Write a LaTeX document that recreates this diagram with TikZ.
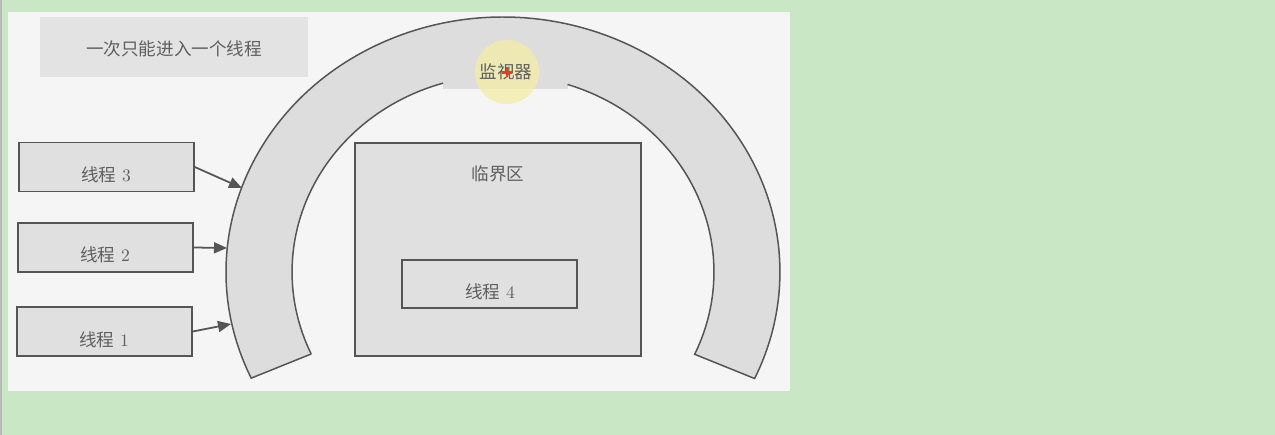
\documentclass[tikz,border=0pt]{standalone}
\usepackage{fontspec}
\newfontfamily\cjk{Noto Sans CJK SC}
\usetikzlibrary{arrows.meta}
\definecolor{pagegreen}{RGB}{201,231,197}
\definecolor{scanbg}{RGB}{245,245,245}
\definecolor{boxgray}{RGB}{224,224,224}
\definecolor{notegray}{RGB}{227,227,227}
\definecolor{bandgray}{RGB}{221,221,221}
\definecolor{edgegray}{RGB}{85,85,85}
\definecolor{textgray}{RGB}{95,95,95}
\definecolor{hilite}{RGB}{244,238,165}
\definecolor{cursorred}{RGB}{232,62,30}

\tikzset{
  threadbox/.style={draw=edgegray, fill=boxgray, line width=0.85pt, inner sep=0pt,
                    minimum width=3.5cm, minimum height=0.98cm},
  txt/.style={text=textgray, font=\fontsize{10}{12}\selectfont, inner sep=0pt},
  feed/.style={draw=edgegray, line width=1pt, -{Triangle[length=2.6mm,width=2.2mm]}},
}

\begin{document}
\begin{tikzpicture}[x=0.02cm, y=-0.02cm]
    \useasboundingbox (0,0) rectangle (1275,435);
    %% page and scanned sheet
    \fill[pagegreen] (0,0) rectangle (1275,435);
    \draw[gray!55, line width=0.6pt] (1,0) -- (1,435);
    \fill[scanbg] (8,12) rectangle (790,391);

    %% note box
    \node[fill=notegray, inner sep=0pt, minimum width=5.36cm, minimum height=1.2cm] (note) at (174,47) {};
    \node[txt] (notetxt) at (174,49) {\cjk 一次只能进入一个线程};

    %% monitor band
    \coordinate (mc) at (503,272);
    \path (mc) ++(204.6:5.54cm and 5.1cm) coordinate (ol)
          (mc) ++(-24.7:5.54cm and 5.1cm) coordinate (or)
          (mc) ++(204.6:4.22cm and 3.94cm) coordinate (il)
          (mc) ++(-24.7:4.22cm and 3.94cm) coordinate (ir)
          (mc) ++(106.5:4.22cm and 3.94cm) coordinate (gl)
          (mc) ++(72.2:4.22cm and 3.94cm) coordinate (gr);
    \fill[bandgray] (ol) arc[start angle=204.6, end angle=-24.7, x radius=5.54cm, y radius=5.1cm]
        -- (ir) arc[start angle=-24.7, end angle=204.6, x radius=4.22cm, y radius=3.94cm] -- cycle;
    \fill[bandgray] (443,70) rectangle (568,89);
    \draw[edgegray, line width=0.85pt] (il) -- (ol)
        arc[start angle=204.6, end angle=-24.7, x radius=5.54cm, y radius=5.1cm]
        -- (ir) arc[start angle=-24.7, end angle=72.2, x radius=4.22cm, y radius=3.94cm];
    \draw[edgegray, line width=0.85pt] (gl) arc[start angle=106.5, end angle=204.6, x radius=4.22cm, y radius=3.94cm];

    %% cursor highlight
    \fill[hilite, opacity=0.75] (507,72) circle[radius=0.64cm];
    \node[txt] (montxt) at (506,72) {\cjk 监视器};
    \draw[cursorred, line width=1.6pt] (502,72.5) -- (512,72.5) (507,67.5) -- (507,77.5);

    %% critical section
    \node[draw=edgegray, fill=boxgray, line width=0.85pt, inner sep=0pt,
          minimum width=5.72cm, minimum height=4.26cm] (crit) at (498,249.5) {};
    \node[txt] (crittxt) at (498,174) {\cjk 临界区};
    \node[threadbox, minimum height=0.96cm] (t4) at (489.5,284) {};
    \node[txt] (t4txt) at (490,292) {{\cjk 线程}~4};

    %% waiting threads
    \node[threadbox] (t3) at (106.5,167) {};
    \node[txt] (t3txt) at (106,175) {{\cjk 线程}~3};
    \node[threadbox] (t2) at (105.5,247.5) {};
    \node[txt] (t2txt) at (105,255) {{\cjk 线程}~2};
    \node[threadbox] (t1) at (104.5,331.5) {};
    \node[txt] (t1txt) at (104,340) {{\cjk 线程}~1};

    \coordinate (in3) at (242,188);
    \coordinate (in2) at (227,248);
    \coordinate (in1) at (231,324);
    \draw[feed] (t3.east) -- (in3);
    \draw[feed] (t2.east) -- (in2);
    \draw[feed] (t1.east) -- (in1);
\end{tikzpicture}
\end{document}
